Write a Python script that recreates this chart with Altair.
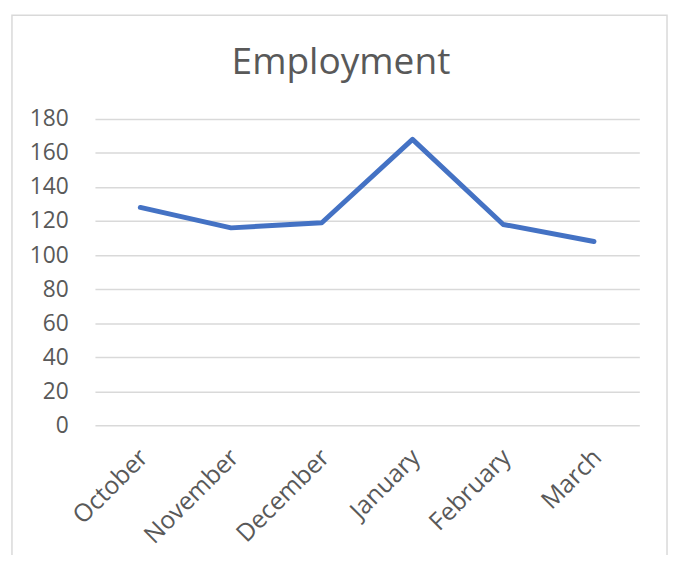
import altair as alt
import pandas as pd

# ---- data ----
months = ["October", "November", "December", "January", "February", "March"]
employment = [128, 116, 119, 168, 118, 108]
y_ticks = [0, 20, 40, 60, 80, 100, 120, 140, 160, 180]
title_text = ["Employment"]

df = pd.DataFrame({"month": months, "employment": employment})

W, H = 551, 310
FONT = "Open Sans"
TXT = "#595959"
GRID = "#d9d9d9"

line = alt.Chart(df).mark_line(
    color="#4472C4", strokeWidth=5, strokeCap="round", strokeJoin="round"
).encode(
    x=alt.X(
        "month:N",
        sort=months,
        scale=alt.Scale(padding=0.5),
        axis=alt.Axis(
            title=None, labelAngle=-45, labelAlign="right", labelBaseline="middle",
            labelPadding=28, labelOffset=3, ticks=False, domain=False, grid=False,
            labelFontSize=25, labelColor=TXT, labelFont=FONT,
        ),
    ),
    y=alt.Y(
        "employment:Q",
        scale=alt.Scale(domain=[0, 180], nice=False, zero=True),
        axis=alt.Axis(
            title=None, values=y_ticks, ticks=False, domain=False, grid=True,
            gridColor=GRID, gridWidth=1.5, labelPadding=27,
            labelFontSize=23, labelColor=TXT, labelFont=FONT,
        ),
    ),
)

border = alt.Chart(pd.DataFrame({"b": [0]})).mark_rect(
    fillOpacity=0, stroke=GRID, strokeWidth=1.5
).encode(
    x=alt.value(-84), x2=alt.value(579), y=alt.value(-105), y2=alt.value(480)
)

title = alt.Chart(pd.DataFrame({"t": title_text})).mark_text(
    font=FONT, fontSize=37.5, color=TXT, align="center", baseline="alphabetic"
).encode(
    text="t:N", x=alt.value(249), y=alt.value(-46)
)

chart = alt.layer(border, line, title).properties(
    width=W, height=H,
    padding={"left": 88, "top": 109, "right": 29, "bottom": 128},
    autosize=alt.AutoSizeParams(type="none"),
).configure_view(stroke="transparent")

chart.save("out.html", embed_options={"renderer": "svg", "actions": False})
